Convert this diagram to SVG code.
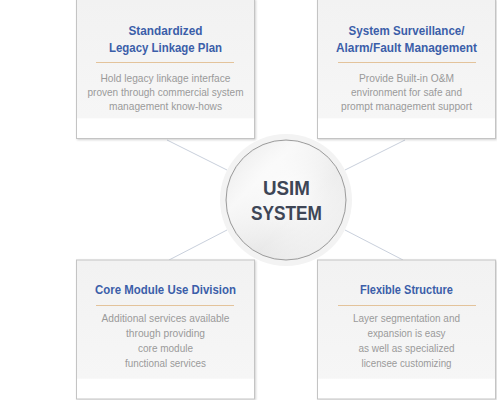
<svg xmlns="http://www.w3.org/2000/svg" width="497" height="400" viewBox="0 0 497 400">
<defs>
<linearGradient id="boxg" x1="0" y1="0" x2="0" y2="1">
<stop offset="0" stop-color="#f2f2f2"/>
<stop offset="0.85" stop-color="#f6f6f6"/>
<stop offset="0.86" stop-color="#ffffff"/>
<stop offset="1" stop-color="#ffffff"/>
</linearGradient>
<radialGradient id="cg" cx="0.55" cy="0.45" r="0.6">
<stop offset="0" stop-color="#fcfcfc"/>
<stop offset="0.5" stop-color="#efefef"/>
<stop offset="1" stop-color="#e4e4e4"/>
</radialGradient>
<linearGradient id="cg2" x1="0" y1="0" x2="1" y2="1">
<stop offset="0" stop-color="#ffffff" stop-opacity="0.1"/>
<stop offset="0.3" stop-color="#ffffff" stop-opacity="0.7"/>
<stop offset="0.6" stop-color="#ffffff" stop-opacity="0.1"/>
<stop offset="1" stop-color="#ffffff" stop-opacity="0.5"/>
</linearGradient>
<filter id="sh" x="-10%" y="-10%" width="120%" height="120%">
<feDropShadow dx="1" dy="1" stdDeviation="0.8" flood-color="#000" flood-opacity="0.18"/>
</filter>
</defs>
<style>
.box{fill:url(#boxg);stroke:#c4c4c4;stroke-width:1;filter:url(#sh)}
.t{font-family:"Liberation Sans",Arial,sans-serif;font-weight:bold;font-size:13px;fill:#3b5ea9;text-anchor:middle}
.b{font-family:"Liberation Sans",Arial,sans-serif;font-size:10.5px;fill:#9a9a9a;text-anchor:middle}
.sep{stroke:#e3c39b;stroke-width:1}
.c{stroke:#c9d0dc;stroke-width:1;fill:none}
.u{font-family:"Liberation Sans",Arial,sans-serif;font-weight:bold;font-size:19.5px;fill:#3e4656;text-anchor:middle}
</style>
<g id="connectors">
<line class="c" x1="167" y1="140" x2="227" y2="170"/>
<line class="c" x1="345" y1="170" x2="405" y2="140"/>
<line class="c" x1="169" y1="260" x2="227" y2="230"/>
<line class="c" x1="345" y1="230" x2="403" y2="260"/>
</g>
<g id="n1">
<rect class="box" x="76.5" y="-1" width="178" height="139.5"/>
<text class="t" x="165.5" y="35" textLength="74" lengthAdjust="spacingAndGlyphs">Standardized</text>
<text class="t" x="165.5" y="52" textLength="113" lengthAdjust="spacingAndGlyphs">Legacy Linkage Plan</text>
<line class="sep" x1="96" y1="62.5" x2="234" y2="62.5"/>
<text class="b" x="165.5" y="82" textLength="130" lengthAdjust="spacingAndGlyphs">Hold legacy linkage interface</text>
<text class="b" x="165.5" y="96" textLength="156" lengthAdjust="spacingAndGlyphs">proven through commercial system</text>
<text class="b" x="165.5" y="110" textLength="113" lengthAdjust="spacingAndGlyphs">management know-hows</text>
</g>
<g id="n2">
<rect class="box" x="317.5" y="-1" width="178" height="139.5"/>
<text class="t" x="406.5" y="35" textLength="116" lengthAdjust="spacingAndGlyphs">System Surveillance/</text>
<text class="t" x="406.5" y="52" textLength="141" lengthAdjust="spacingAndGlyphs">Alarm/Fault Management</text>
<line class="sep" x1="338" y1="62.5" x2="476" y2="62.5"/>
<text class="b" x="406.5" y="82" textLength="95" lengthAdjust="spacingAndGlyphs">Provide Built-in O&amp;M</text>
<text class="b" x="406.5" y="96" textLength="111" lengthAdjust="spacingAndGlyphs">environment for safe and</text>
<text class="b" x="406.5" y="110" textLength="131" lengthAdjust="spacingAndGlyphs">prompt management support</text>
</g>
<g id="n3">
<rect class="box" x="76.5" y="260" width="178" height="139"/>
<text class="t" x="165.5" y="294" textLength="141" lengthAdjust="spacingAndGlyphs">Core Module Use Division</text>
<line class="sep" x1="96" y1="305.5" x2="234" y2="305.5"/>
<text class="b" x="165.5" y="322" textLength="128" lengthAdjust="spacingAndGlyphs">Additional services available</text>
<text class="b" x="165.5" y="337" textLength="79" lengthAdjust="spacingAndGlyphs">through providing</text>
<text class="b" x="165.5" y="352" textLength="55" lengthAdjust="spacingAndGlyphs">core module</text>
<text class="b" x="165.5" y="367" textLength="81" lengthAdjust="spacingAndGlyphs">functional services</text>
</g>
<g id="n4">
<rect class="box" x="317.5" y="260" width="178" height="139"/>
<text class="t" x="406.5" y="294" textLength="93" lengthAdjust="spacingAndGlyphs">Flexible Structure</text>
<line class="sep" x1="338" y1="305.5" x2="476" y2="305.5"/>
<text class="b" x="406.5" y="322" textLength="107" lengthAdjust="spacingAndGlyphs">Layer segmentation and</text>
<text class="b" x="406.5" y="337" textLength="78" lengthAdjust="spacingAndGlyphs">expansion is easy</text>
<text class="b" x="406.5" y="352" textLength="96" lengthAdjust="spacingAndGlyphs">as well as specialized</text>
<text class="b" x="406.5" y="367" textLength="90" lengthAdjust="spacingAndGlyphs">licensee customizing</text>
</g>
<g id="center">
<circle cx="286" cy="200" r="66" fill="#f3f3f3"/>
<circle cx="286" cy="200" r="60" fill="url(#cg)" stroke="#9c9c9c" stroke-width="1"/>
<circle cx="286" cy="200" r="59" fill="url(#cg2)"/>
<text class="u" x="286.5" y="195" textLength="47" lengthAdjust="spacingAndGlyphs">USIM</text>
<text class="u" x="286.5" y="219.5" textLength="71" lengthAdjust="spacingAndGlyphs">SYSTEM</text>
</g>
</svg>
